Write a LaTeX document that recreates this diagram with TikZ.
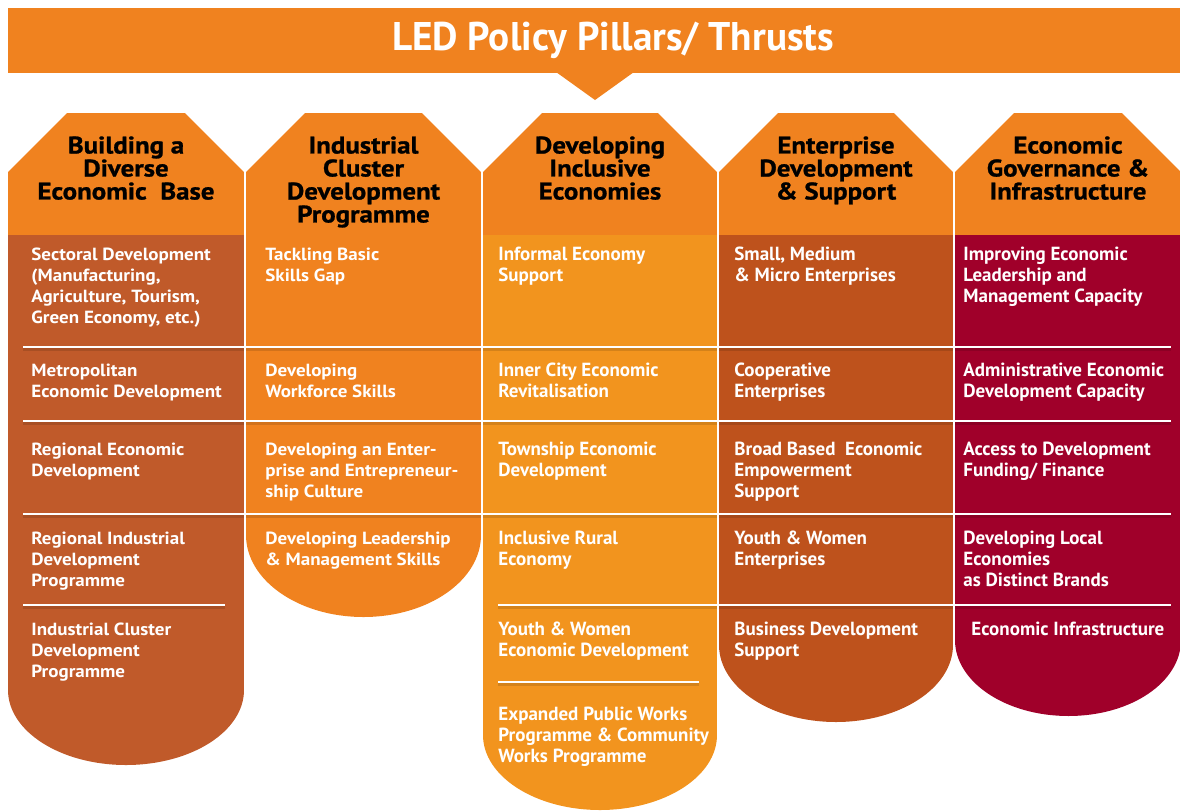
\documentclass[tikz,border=0pt]{standalone}
\usepackage{fontspec}
\setmainfont{PT Sans}
\newfontfamily\hdfont[FakeStretch=1.12,FakeBold=1]{PT Sans}
\newfontfamily\bodyfont[FakeStretch=1.08]{PT Sans}
\newfontfamily\condfont[FakeStretch=1.0]{PT Sans}
\newfontfamily\titlefont[FakeStretch=0.98]{PT Sans}
\definecolor{ledorange}{RGB}{240,130,31}
\definecolor{colA}{RGB}{192,90,42}
\definecolor{colB}{RGB}{240,130,31}
\definecolor{colC}{RGB}{242,148,30}
\definecolor{colD}{RGB}{190,82,28}
\definecolor{colE}{RGB}{160,0,42}
\tikzset{
  hdr/.style={anchor=north, align=center, inner sep=0pt, text=black,
    font=\hdfont\bfseries\fontsize{12}{11.5}\selectfont},
  itm/.style={anchor=north west, align=left, inner sep=0pt, text=white,
    font=\bodyfont\bfseries\fontsize{8.8}{10.5}\selectfont},
  itmc/.style={itm, font=\condfont\bfseries\fontsize{9.5}{10.5}\selectfont},
  divider/.style={draw=white, line width=0.6pt},
  dshadow/.style={draw=black, opacity=0.12, line width=1.5pt},
}
\begin{document}
\begin{tikzpicture}[x=0.5pt,y=-0.5pt]
\useasboundingbox (0,0) rectangle (1180,810);
% banner
\fill[ledorange] (8,8) rectangle (1180,73);
\fill[ledorange] (556,72) -- (634,72) -- (595,100) -- cycle;
\node[text=white, font=\titlefont\bfseries\fontsize{20}{22}\selectfont, inner sep=0pt] (title) at (613,40) {LED Policy Pillars/ Thrusts};

% column 1
\fill[ledorange] (8,236) -- (8,172) -- (67,113) -- (185,113) -- (244,172) -- (244,236) -- cycle;
\fill[colA] (8,235) -- (8,690) .. controls (8,731.4) and (60.8,765) .. (126,765) .. controls (191.2,765) and (244,731.4) .. (244,690) -- (244,235) -- cycle;
% column 2
\fill[ledorange] (246,236) -- (246,172) -- (305,113) -- (422,113) -- (481,172) -- (481,236) -- cycle;
\fill[colB] (246,235) -- (246,535) .. controls (246,580.3) and (298.6,617) .. (363.5,617) .. controls (428.4,617) and (481,580.3) .. (481,535) -- (481,235) -- cycle;
% column 3
\fill[ledorange] (483,236) -- (483,172) -- (542,113) -- (658,113) -- (717,172) -- (717,236) -- cycle;
\fill[colC] (483,235) -- (483,735) .. controls (483,776.4) and (535.4,810) .. (600,810) .. controls (664.6,810) and (717,776.4) .. (717,735) -- (717,235) -- cycle;
% column 4
\fill[ledorange] (719,236) -- (719,172) -- (778,113) -- (894,113) -- (953,172) -- (953,236) -- cycle;
\fill[colD] (719,235) -- (719,645) .. controls (719,687.5) and (771.4,722) .. (836,722) .. controls (900.6,722) and (953,687.5) .. (953,645) -- (953,235) -- cycle;
% column 5
\fill[ledorange] (955,236) -- (955,172) -- (1014,113) -- (1122,113) -- (1181,172) -- (1181,236) -- cycle;
\fill[colE] (955,235) -- (955,640) .. controls (955,682) and (1005.8,716) .. (1068.5,716) .. controls (1131.2,716) and (1181,682) .. (1181,640) -- (1181,235) -- cycle;

% dividers
\foreach \y in {347,421,514} {
  \draw[dshadow] (23,\y+2.5) -- (1171,\y+2.5);
  \draw[divider] (23,\y) -- (1171,\y);
}
\draw[dshadow] (23,607.5) -- (225,607.5);
\draw[divider] (23,605) -- (225,605);
\draw[dshadow] (498,607.5) -- (1171,607.5);
\draw[divider] (498,605) -- (1171,605);
\draw[dshadow] (498,684.5) -- (699,684.5);
\draw[divider] (498,682) -- (699,682);
% column gaps
\foreach \x in {245,482,718,954} {
  \draw[draw=white, line width=1pt] (\x,113) -- (\x,810);
}

% headers
\node[hdr] (h1) at (126,136) {Building a\\Diverse\\Economic\ \ Base};
\node[hdr] (h2) at (363.5,136) {Industrial\\Cluster\\Development\\Programme};
\node[hdr] (h3) at (600,136) {Developing\\Inclusive\\Economies};
\node[hdr] (h4) at (836,136) {Enterprise\\Development\\\& Support};
\node[hdr] (h5) at (1068,136) {Economic\\Governance \&\\Infrastructure};

% column 1 items
\node[itm] (a1) at (31,248) {Sectoral Development\\(Manufacturing,\\Agriculture, Tourism,\\Green Economy, etc.)};
\node[itm] (a2) at (31,364) {Metropolitan\\Economic Development};
\node[itm] (a3) at (31,443) {Regional Economic\\Development};
\node[itm] (a4) at (31,532) {Regional Industrial\\Development\\Programme};
\node[itm] (a5) at (31,623) {Industrial Cluster\\Development\\Programme};

% column 2 items
\node[itm] (b1) at (265,248) {Tackling Basic\\Skills Gap};
\node[itm] (b2) at (265,364) {Developing\\Workforce Skills};
\node[itm] (b3) at (265,443) {Developing an Enter-\\prise and Entrepreneur-\\ship Culture};
\node[itm] (b4) at (265,532) {Developing Leadership\\\& Management Skills};

% column 3 items
\node[itmc] (c1) at (498,247) {Informal Economy\\Support};
\node[itmc] (c2) at (498,363) {Inner City Economic\\Revitalisation};
\node[itmc] (c3) at (498,442) {Township Economic\\Development};
\node[itmc] (c4) at (498,531) {Inclusive Rural\\Economy};
\node[itmc] (c5) at (498,622) {Youth \& Women\\Economic Development};
\node[itmc] (c6) at (498,707) {Expanded Public Works\\Programme \& Community\\Works Programme};

% column 4 items
\node[itmc] (d1) at (734,247) {Small, Medium\\\& Micro Enterprises};
\node[itmc] (d2) at (734,363) {Cooperative\\Enterprises};
\node[itmc] (d3) at (734,442) {Broad Based\ \ Economic\\Empowerment\\Support};
\node[itmc] (d4) at (734,531) {Youth \& Women\\Enterprises};
\node[itmc] (d5) at (734,622) {Business Development\\Support};

% column 5 items
\node[itmc] (e1) at (963,247) {Improving Economic\\Leadership and\\Management Capacity};
\node[itmc] (e2) at (963,363) {Administrative Economic\\Development Capacity};
\node[itmc] (e3) at (963,442) {Access to Development\\Funding/ Finance};
\node[itmc] (e4) at (963,531) {Developing Local\\Economies\\as Distinct Brands};
\node[itmc] (e5) at (971,622) {Economic Infrastructure};
\end{tikzpicture}
\end{document}
